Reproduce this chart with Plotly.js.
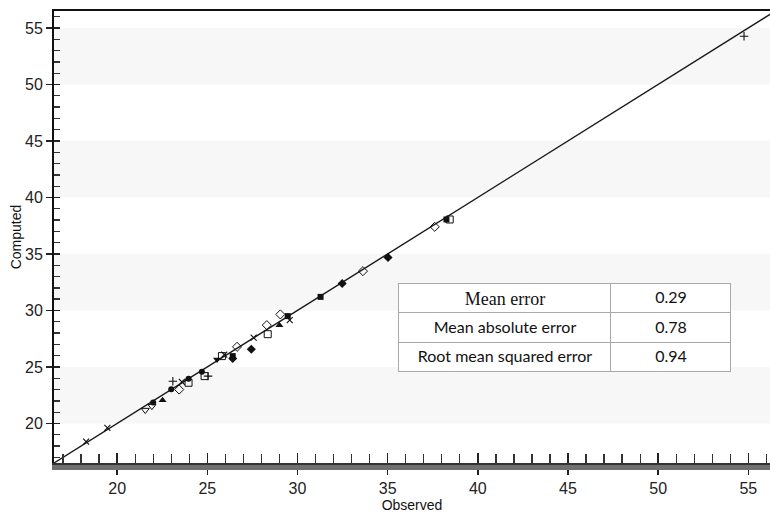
<!DOCTYPE html>
<html><head><meta charset="utf-8">
<script src="https://cdn.plot.ly/plotly-3.0.1.min.js"></script>
<style>html,body{margin:0;padding:0;background:#fff}#chart{width:770px;height:517px}</style>
</head><body><div id="chart"></div><script>
// Reference 1:1 line
var lineX = [16.5, 56.5];
var lineY = [16.5, 56.5];

// Observed / computed points, by marker type
var crossX = [18.28, 19.46, 23.59, 25.94, 27.57, 29.57];
var crossY = [18.40, 19.60, 23.68, 26.10, 27.60, 29.14];
var triDownOpenX = [21.56, 21.93];
var triDownOpenY = [21.18, 21.53];
var dotX = [22.00, 23.00, 23.96, 24.70];
var dotY = [21.86, 23.03, 23.95, 24.57];
var triUpX = [22.52, 29.00];
var triUpY = [22.06, 28.70];
var plusX = [23.09, 25.04, 54.76];
var plusY = [23.74, 24.19, 54.27];
var diamondOpenX = [23.44, 26.65, 28.30, 29.05, 33.63, 37.61];
var diamondOpenY = [23.00, 26.78, 28.70, 29.65, 33.48, 37.40];
var squareOpenX = [23.96, 24.85, 25.81, 28.35, 38.44];
var squareOpenY = [23.60, 24.19, 25.96, 27.90, 38.05];
var triDownX = [25.54];
var triDownY = [25.66];
var squareX = [26.41, 29.46, 31.28, 38.26];
var squareY = [25.96, 29.50, 31.20, 38.05];
var diamondX = [26.41, 27.44, 32.48, 35.02];
var diamondY = [25.75, 26.57, 32.39, 34.69];

// Error table
var statLabels = ["Mean error", "Mean absolute error", "Root mean squared error"];
var statValues = ["0.29", "0.78", "0.94"];

// Background band starts (5-unit bands)
var bandStarts = [20, 30, 40, 50];

var ink = '#111';
function pts(x, y, symbol, size, lw) {
  return {type:'scatter', mode:'markers', x:x, y:y, hoverinfo:'skip',
    marker:{symbol:symbol, size:size, color:ink, line:{color:ink, width:lw}}};
}

var traces = [
  {type:'scatter', mode:'lines', x:lineX, y:lineY, line:{color:'#1a1a1a', width:1.4}, hoverinfo:'skip'},
  pts(crossX, crossY, 'x-thin-open', 6, 1.1),
  pts(triDownOpenX, triDownOpenY, 'triangle-down-open', 7, 1),
  pts(dotX, dotY, 'circle', 6, 0),
  pts(triUpX, triUpY, 'triangle-up', 7, 0),
  pts(plusX, plusY, 'cross-thin-open', 6, 1.1),
  pts(diamondOpenX, diamondOpenY, 'diamond-open', 7, 1),
  pts(squareOpenX, squareOpenY, 'square-open', 7, 1),
  pts(triDownX, triDownY, 'triangle-down', 7, 0),
  pts(squareX, squareY, 'square', 6, 0),
  pts(diamondX, diamondY, 'diamond', 7, 0),
  {type:'scatter', mode:'markers', x:[], y:[], xaxis:'x2', yaxis:'y2', hoverinfo:'skip'},
  {type:'scatter', mode:'markers', x:[], y:[], xaxis:'x3', yaxis:'y', hoverinfo:'skip'},
  {type:'table', columnwidth:[212, 120],
    domain:{x:[0.4818, 0.9455], y:[0.195, 0.3982]},
    header:{values:[statLabels[0], statValues[0]], height:29.6, align:'center',
      fill:{color:'#ffffff'}, line:{color:'#a9a9a9', width:1},
      font:{family:['Liberation Serif, Times New Roman, serif','Lato, sans-serif'], size:[18,16], color:ink}},
    cells:{values:[statLabels.slice(1), statValues.slice(1)], height:29.6, align:'center',
      fill:{color:'#ffffff'}, line:{color:'#a9a9a9', width:1},
      font:{family:'Lato, sans-serif', size:16, color:ink}}
  }
];

var tickFont = {family:'Liberation Sans, Arial, sans-serif', size:16, color:'#222'};
var xr = [16.5, 56.2], yr = [16.5, 56.5];

var layout = {
  width:770, height:517,
  margin:{l:54, r:0, t:11, b:54},
  paper_bgcolor:'#fff', plot_bgcolor:'#fff', showlegend:false,
  xaxis:{range:xr, tickmode:'linear', tick0:0, dtick:5, ticks:'outside', ticklen:5, tickwidth:1.4, tickcolor:'#222',
    showline:true, linewidth:7, linecolor:'#707070', showgrid:false, zeroline:false, automargin:false,
    minor:{ticks:'inside', dtick:1, ticklen:9, tickwidth:1.3, tickcolor:'#333', showgrid:false},
    tickfont:tickFont,
    title:{text:'Observed', standoff:6, font:{family:'Liberation Sans, Arial, sans-serif', size:14, color:'#111'}}},
  xaxis2:{overlaying:'x', anchor:'y', side:'bottom', range:xr, tickmode:'linear', tick0:0, dtick:5,
    ticks:'inside', ticklen:10, tickwidth:1.4, tickcolor:'#222', showticklabels:false,
    showline:true, linewidth:2, linecolor:'#333', showgrid:false, zeroline:false},
  xaxis3:{overlaying:'x', anchor:'y', side:'top', range:xr, ticks:'', showticklabels:false,
    showline:true, linewidth:2, linecolor:'#111', showgrid:false, zeroline:false},
  yaxis:{range:yr, tickmode:'linear', tick0:0, dtick:5, ticks:'outside', ticklen:6, tickwidth:1.4, tickcolor:'#222',
    showline:true, linewidth:2, linecolor:'#111', showgrid:false, zeroline:false, automargin:false,
    minor:{ticks:'inside', dtick:1, ticklen:6, tickwidth:1.3, tickcolor:'#333', showgrid:false},
    tickfont:tickFont,
    title:{text:'Computed', standoff:0, font:{family:'Liberation Sans, Arial, sans-serif', size:14, color:'#111'}}},
  yaxis2:{overlaying:'y', anchor:'x', side:'left', range:yr, tickmode:'linear', tick0:0, dtick:5,
    ticks:'inside', ticklen:6, tickwidth:1.4, tickcolor:'#222', showticklabels:false,
    showline:false, showgrid:false, zeroline:false},
  shapes: bandStarts.map(function(b){
    return {type:'rect', xref:'x domain', yref:'y', x0:0, x1:1, y0:b, y1:b+5,
      fillcolor:'#f7f7f7', line:{width:0}, layer:'below'};
  })
};

Plotly.newPlot('chart', traces, layout, {staticPlot:true, displayModeBar:false});
</script></body></html>
